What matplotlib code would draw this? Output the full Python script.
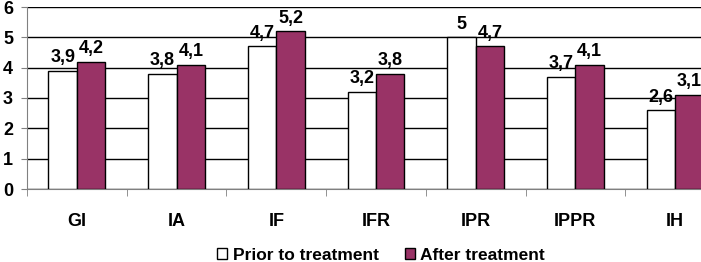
import numpy as np
import matplotlib.pyplot as plt

plt.rcParams['font.family'] = ['Liberation Sans', 'DejaVu Sans']

categories = ['GI', 'IA', 'IF', 'IFR', 'IPR', 'IPPR', 'IH']
prior = [3.9, 3.8, 4.7, 3.2, 5.0, 3.7, 2.6]
after = [4.2, 4.1, 5.2, 3.8, 4.7, 4.1, 3.1]
prior_labels = ['3,9', '3,8', '4,7', '3,2', '5', '3,7', '2,6']
after_labels = ['4,2', '4,1', '5,2', '3,8', '4,7', '4,1', '3,1']

fig = plt.figure(figsize=(7.01, 2.62), dpi=100)
ax = fig.add_axes([27/701, 73/262, 698/701, 182/262])

x = np.arange(len(categories))
w = 0.285
ax.bar(x - w/2, prior, w, color='white', edgecolor='black', linewidth=1, zorder=3,
       label='Prior to treatment')
ax.bar(x + w/2, after, w, color='#993366', edgecolor='black', linewidth=1, zorder=3,
       label='After treatment')

for i in range(len(categories)):
    ax.text(x[i] - w/2, prior[i] + 0.15, prior_labels[i], ha='center', va='bottom',
            fontsize=13, fontweight='bold')
    ax.text(x[i] + w/2, after[i] + 0.15, after_labels[i], ha='center', va='bottom',
            fontsize=13, fontweight='bold')

ax.set_xlim(-0.5, len(categories) - 0.5)
ax.set_ylim(0, 6)
ax.set_yticks(range(7))
ax.yaxis.grid(True, color='black', linewidth=1, zorder=0)
ax.set_axisbelow(True)
ax.spines['right'].set_visible(False)
ax.spines['top'].set_visible(False)
ax.spines['left'].set_color('#808080')
ax.spines['bottom'].set_color('#808080')

ax.set_xticks(x)
ax.set_xticklabels(categories, fontsize=13, fontweight='bold')
ax.set_xticks(np.arange(len(categories) + 1) - 0.5, minor=True)
ax.tick_params(axis='x', which='major', length=0, pad=17)
ax.tick_params(axis='x', which='minor', length=5, color='#808080', direction='out')
ax.tick_params(axis='y', length=4, color='#808080', labelsize=13, pad=6)
for lbl in ax.get_yticklabels():
    lbl.set_fontweight('bold')

fig.legend(loc='center', bbox_to_anchor=(381/701, 7/262), ncol=2, frameon=False,
           prop={'size': 12.5, 'weight': 'bold'}, handlelength=0.6, handleheight=0.6,
           handletextpad=0.3, columnspacing=1.5, borderpad=0)

fig.savefig('out.png', dpi=100)
